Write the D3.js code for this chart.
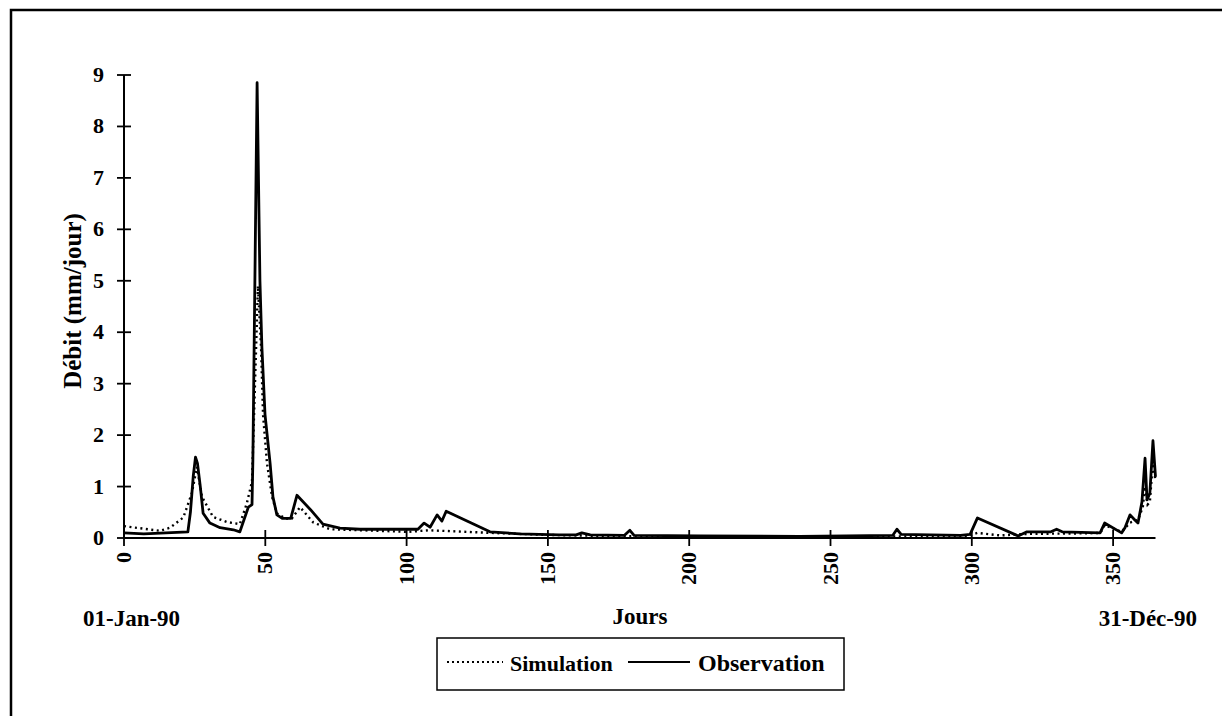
<!DOCTYPE html>
<html><head><meta charset="utf-8">
<script src="https://cdn.jsdelivr.net/npm/d3@7"></script>
<style>
html,body{margin:0;padding:0;background:#fff;}
svg{display:block;}
text{font-family:"Liberation Serif","Times New Roman",serif;font-weight:bold;fill:#000;}
</style></head>
<body><svg id="c" width="1222" height="716"></svg>
<script>
// ---- data ----
const yTicks = [0,1,2,3,4,5,6,7,8,9];
const xTicks = [0,50,100,150,200,250,300,350];
const obsDays = [0,7,22.6,23.5,24.5,25.3,26,27,28,30.4,34,38.7,41,44,45.3,45.6,47.1,48.1,48.8,49.9,51.7,52.7,54.1,56,59,61.2,66,70.4,76.4,83.5,100.5,104,106.2,108.3,110.8,112.5,114,129.5,140,154,160,162,165,177,179,180.5,204,239,272,273.5,275,296,299.4,302,316.4,319.5,328,330,332,345.4,347,353,354.2,356,357.7,358.8,360.2,361.3,362,363,364.1,365];
const obsVals = [0.10,0.08,0.12,0.5,1.2,1.57,1.45,1.0,0.48,0.29,0.2,0.16,0.12,0.6,0.65,1.5,8.85,5.0,3.7,2.4,1.45,0.8,0.45,0.38,0.38,0.83,0.55,0.27,0.19,0.17,0.17,0.17,0.29,0.21,0.45,0.33,0.52,0.12,0.08,0.06,0.06,0.10,0.06,0.05,0.15,0.05,0.04,0.03,0.05,0.17,0.07,0.05,0.07,0.39,0.04,0.12,0.12,0.17,0.12,0.10,0.29,0.10,0.20,0.45,0.35,0.29,0.70,1.55,0.74,0.87,1.89,1.19];
const simDays = [0,12.7,16.3,21,24,25.8,27.6,31.5,36.4,41,43.5,45.3,47.4,48.5,49.2,50.6,52.4,54.1,57,59.4,62.3,67,73,100.5,108,129.5,150,170,200,250,298,302,310,320,340,345.5,347,353,356,358.8,360.5,361.3,362.2,363,364.1,365];
const simVals = [0.23,0.14,0.2,0.4,0.87,1.38,0.8,0.41,0.31,0.27,0.68,1.1,4.9,3.7,2.4,1.45,0.8,0.48,0.38,0.38,0.6,0.3,0.17,0.12,0.15,0.1,0.06,0.04,0.03,0.03,0.03,0.1,0.05,0.08,0.09,0.1,0.25,0.12,0.3,0.35,0.6,1.0,0.65,0.7,1.5,1.1];
const seriesNames = ["Simulation","Observation"];
const yLabel = "Débit (mm/jour)";
const xLabel = "Jours";
const startLabel = "01-Jan-90";
const endLabel = "31-Déc-90";

const svg = d3.select("#c");
const x = d3.scaleLinear().domain([0,365]).range([124,1155.5]);
const y = d3.scaleLinear().domain([0,9]).range([538,75]);

// outer frame
svg.append("path").attr("d","M11,716 L11,10 L1222,10").attr("fill","none").attr("stroke","#000").attr("stroke-width",2.5);

// axes lines
svg.append("line").attr("x1",x(0)).attr("x2",x(0)).attr("y1",y(9)).attr("y2",y(0)).attr("stroke","#000").attr("stroke-width",2);
svg.append("line").attr("x1",x(0)).attr("x2",x(365)).attr("y1",y(0)).attr("y2",y(0)).attr("stroke","#000").attr("stroke-width",2);

// y ticks (crossing)
svg.selectAll(".yt").data(yTicks).enter().append("line")
  .attr("x1",x(0)-7).attr("x2",x(0)+7).attr("y1",d=>y(d)).attr("y2",d=>y(d))
  .attr("stroke","#000").attr("stroke-width",1.8);
svg.selectAll(".yl").data(yTicks).enter().append("text")
  .attr("x",104).attr("y",d=>y(d)+7).attr("text-anchor","end").attr("font-size",22).text(d=>d);

// x ticks (crossing)
svg.selectAll(".xt").data(xTicks).enter().append("line")
  .attr("x1",d=>x(d)).attr("x2",d=>x(d)).attr("y1",y(0)-8).attr("y2",y(0)+8)
  .attr("stroke","#000").attr("stroke-width",1.8);
svg.selectAll(".xl").data(xTicks).enter().append("text")
  .attr("transform",d=>`translate(${x(d)+7},552) rotate(-90)`)
  .attr("text-anchor","end").attr("font-size",22).text(d=>d);

// labels
svg.append("text").attr("transform","translate(81,301) rotate(-90)").attr("text-anchor","middle").attr("font-size",25).text(yLabel);
svg.append("text").attr("x",640).attr("y",624).attr("text-anchor","middle").attr("font-size",23).text(xLabel);
svg.append("text").attr("x",83).attr("y",626).attr("font-size",23).text(startLabel);
svg.append("text").attr("x",1197).attr("y",626).attr("text-anchor","end").attr("font-size",23).text(endLabel);

// lines
const line = d3.line().x(d=>x(d[0])).y(d=>y(d[1]));
const sim = simDays.map((d,i)=>[d,simVals[i]]);
const obs = obsDays.map((d,i)=>[d,obsVals[i]]);
svg.append("path").datum(sim).attr("d",line).attr("fill","none").attr("stroke","#000")
  .attr("stroke-width",2.4).attr("stroke-dasharray","2,3.5");
svg.append("path").datum(obs).attr("d",line).attr("fill","none").attr("stroke","#000")
  .attr("stroke-width",2.8).attr("stroke-linejoin","round");

// legend
const lg = svg.append("g");
lg.append("rect").attr("x",437).attr("y",638).attr("width",407).attr("height",52).attr("fill","#fff").attr("stroke","#000").attr("stroke-width",1.5);
lg.append("line").attr("x1",447).attr("x2",503).attr("y1",662).attr("y2",662).attr("stroke","#000").attr("stroke-width",2).attr("stroke-dasharray","2,3");
lg.append("text").attr("x",510).attr("y",671).attr("font-size",22).text(seriesNames[0]);
lg.append("line").attr("x1",628).attr("x2",690).attr("y1",662).attr("y2",662).attr("stroke","#000").attr("stroke-width",2);
lg.append("text").attr("x",698).attr("y",671).attr("font-size",24).text(seriesNames[1]);
</script></body></html>
